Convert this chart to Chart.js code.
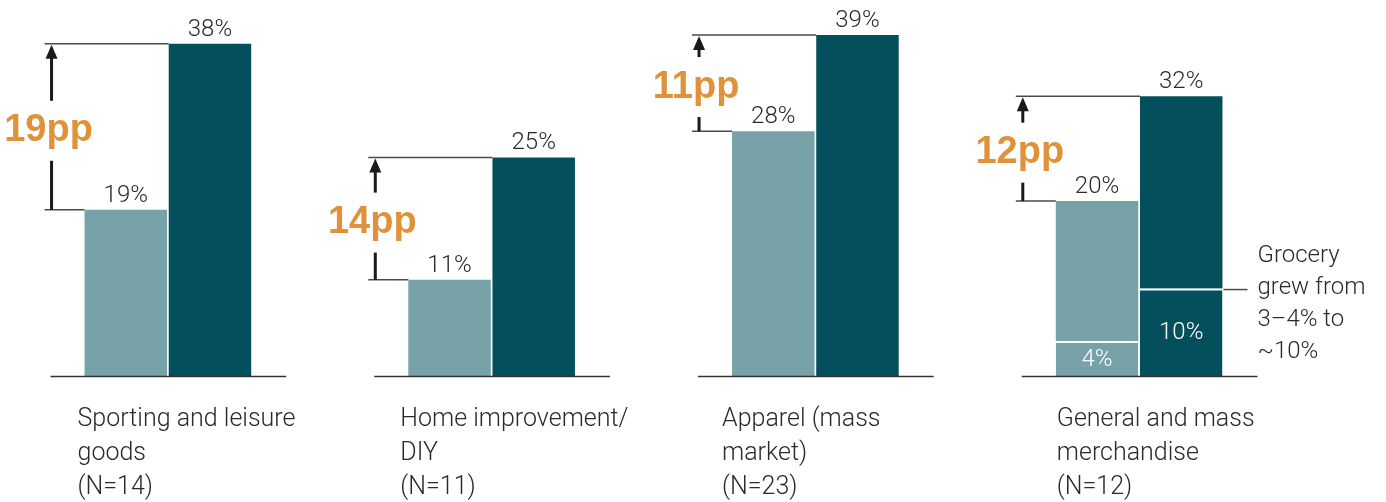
<!DOCTYPE html>
<html>
<head>
<meta charset="utf-8">
<script src="https://cdn.jsdelivr.net/npm/chart.js@4.4.1/dist/chart.umd.min.js"></script>
<style>
  html, body { margin: 0; padding: 0; background: #fff; }
  #wrap { width: 1386px; height: 502px; position: relative; }
</style>
</head>
<body>
<div id="wrap"><canvas id="chart"></canvas></div>
<script>
// data
const categories = [
  ['Sporting and leisure', 'goods', '(N=14)'],
  ['Home improvement/', 'DIY', '(N=11)'],
  ['Apparel (mass', 'market)', '(N=23)'],
  ['General and mass', 'merchandise', '(N=12)']
];
const before = [19, 11, 28, 20];          // light bars (total)
const after = [38, 25, 39, 32];           // dark bars (total)
const groceryBefore = [null, null, null, 4];
const groceryAfter = [null, null, null, 10];
const uplift = ['19pp', '14pp', '11pp', '12pp'];
const groceryNote = ['Grocery', 'grew from', '3–4% to', '~10%'];

const LIGHT = '#76A2A8';
const DARK = '#044F5C';
const ORANGE = '#E0923A';
const TEXT = '#2a2a2a';
const LINE = '#4a4a4a';
const FONT = 'Roboto, "Liberation Sans", Arial, sans-serif';
const labelShift = [-7, -8, -10, 1];   // small nudges of the category labels

// upper segments = total minus grocery part (if any)
const beforeRest = before.map((v, i) => groceryBefore[i] ? v - groceryBefore[i] : v);
const afterRest = after.map((v, i) => groceryAfter[i] ? v - groceryAfter[i] : v);

const sepBorder = { top: 2, left: 0, right: 0, bottom: 0 };

// annotations: value labels, arrows, baselines, category labels
const annotations = {
  id: 'annotations',
  afterDatasetsDraw(chart) {
    const ctx = chart.ctx;
    const gb = chart.getDatasetMeta(0).data;
    const br = chart.getDatasetMeta(1).data;
    const ga = chart.getDatasetMeta(2).data;
    const ar = chart.getDatasetMeta(3).data;
    const base = chart.scales.y.getPixelForValue(0);

    ctx.save();
    categories.forEach((cat, i) => {
      const lb = br[i], db = ar[i];
      const lLeft = lb.x - lb.width / 2;
      const dLeft = db.x - db.width / 2;
      const dRight = db.x + db.width / 2;
      const arrowX = lLeft - 33;

      // baseline
      ctx.strokeStyle = '#333';
      ctx.lineWidth = 1.5;
      ctx.beginPath();
      ctx.moveTo(lLeft - 34, base + 0.5);
      ctx.lineTo(dRight + 35, base + 0.5);
      ctx.stroke();

      // value labels on top
      ctx.fillStyle = TEXT;
      ctx.font = '300 24px ' + FONT;
      ctx.textAlign = 'center';
      ctx.textBaseline = 'alphabetic';
      ctx.fillText(before[i] + '%', lb.x, lb.y - 8);
      ctx.fillText(after[i] + '%', db.x, db.y - 8);

      // reference lines
      ctx.strokeStyle = LINE;
      ctx.lineWidth = 1.5;
      ctx.beginPath();
      ctx.moveTo(arrowX - 7, db.y);
      ctx.lineTo(dLeft, db.y);
      ctx.moveTo(arrowX - 7, lb.y);
      ctx.lineTo(lLeft, lb.y);
      ctx.stroke();

      // arrow with a gap for the pp label
      const mid = (db.y + lb.y) / 2 + 4;
      const gapTop = mid - 30, gapBot = mid + 30;
      const tip = db.y + 1, headBase = tip + 14;
      ctx.fillStyle = '#1a1a1a';
      ctx.beginPath();
      ctx.moveTo(arrowX, tip);
      ctx.lineTo(arrowX - 6, headBase);
      ctx.lineTo(arrowX + 6, headBase);
      ctx.closePath();
      ctx.fill();
      if (gapTop > headBase) ctx.fillRect(arrowX - 1.5, headBase - 1, 3, gapTop - headBase + 1);
      if (lb.y > gapBot) ctx.fillRect(arrowX - 1.5, gapBot, 3, lb.y - gapBot);

      ctx.fillStyle = ORANGE;
      ctx.font = 'bold 38px "Liberation Sans", Arial, sans-serif';
      ctx.textAlign = 'center';
      ctx.textBaseline = 'middle';
      ctx.fillText(uplift[i], arrowX - 3, mid);

      // category labels
      ctx.fillStyle = TEXT;
      ctx.font = '300 25px ' + FONT;
      ctx.textAlign = 'left';
      ctx.textBaseline = 'alphabetic';
      cat.forEach((line, k) => {
        ctx.fillText(line, lLeft + labelShift[i], base + 50 + k * 34);
      });

      // grocery segments
      if (groceryBefore[i] || groceryAfter[i]) {
        const g1 = gb[i], g2 = ga[i];
        ctx.fillStyle = '#fff';
        ctx.font = '300 24px ' + FONT;
        ctx.textAlign = 'center';
        ctx.textBaseline = 'middle';
        ctx.fillText(groceryBefore[i] + '%', g1.x, (g1.y + g1.base) / 2 + 1);
        ctx.fillText(groceryAfter[i] + '%', g2.x, (g2.y + g2.base) / 2 + 1);

        // leader + note
        ctx.strokeStyle = LINE;
        ctx.lineWidth = 1.5;
        ctx.beginPath();
        ctx.moveTo(dRight + 1, g2.y + 1);
        ctx.lineTo(dRight + 25, g2.y + 1);
        ctx.stroke();
        ctx.fillStyle = TEXT;
        ctx.font = '300 24px ' + FONT;
        ctx.textAlign = 'left';
        ctx.textBaseline = 'middle';
        groceryNote.forEach((line, k) => {
          ctx.fillText(line, dRight + 35, g2.y - 33 + k * 32);
        });
      }
    });
    ctx.restore();
  }
};

new Chart(document.getElementById('chart'), {
  type: 'bar',
  data: {
    labels: categories.map(c => c.join(' ')),
    datasets: [
      { label: 'Grocery before', data: groceryBefore, stack: 'before', backgroundColor: LIGHT, borderColor: '#fff', borderWidth: sepBorder, borderSkipped: false },
      { label: 'Before', data: beforeRest, stack: 'before', backgroundColor: LIGHT, borderWidth: 0 },
      { label: 'Grocery after', data: groceryAfter, stack: 'after', backgroundColor: DARK, borderColor: '#fff', borderWidth: sepBorder, borderSkipped: false },
      { label: 'After', data: afterRest, stack: 'after', backgroundColor: DARK, borderWidth: 0 }
    ]
  },
  options: {
    responsive: true,
    maintainAspectRatio: false,
    animation: false,
    categoryPercentage: 0.52,
    barPercentage: 0.98,
    layout: { padding: { left: 6, right: 85, top: 0, bottom: 126 } },
    plugins: { legend: { display: false }, tooltip: { enabled: false } },
    scales: {
      x: { stacked: true, display: false },
      y: { stacked: true, display: false, min: 0, max: 43 }
    }
  },
  plugins: [annotations]
});
</script>
</body>
</html>
